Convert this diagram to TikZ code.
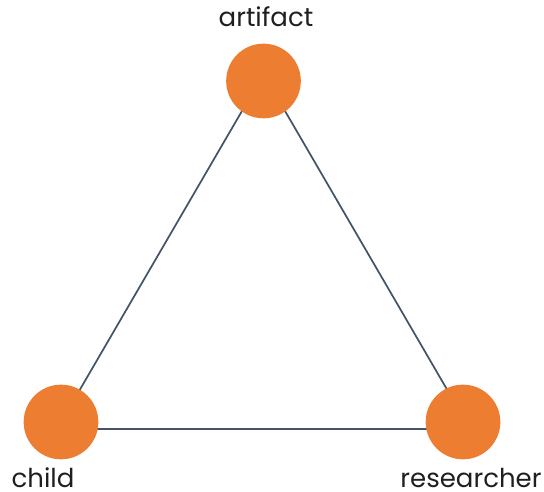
\documentclass[tikz,border=0pt]{standalone}
\usepackage{fontspec}
\setmainfont{Poppins}
\usepackage{tikz}
\usetikzlibrary{positioning}
\definecolor{dotorange}{HTML}{ED7D31}
\definecolor{edgeslate}{HTML}{44546A}

\begin{document}
\begin{tikzpicture}[x=0.75pt,y=0.75pt,
    actor/.style={circle,fill=dotorange,minimum size=56pt,inner sep=0pt},
    tie/.style={draw=edgeslate,line width=1.3pt},
    tag/.style={anchor=base,inner sep=0pt,font=\fontsize{19.5}{22}\selectfont,text=black!88}]
        \useasboundingbox (0,0) rectangle (544,492);

        % corners of the triangle
        \coordinate (ta) at (263.5,418);
        \coordinate (tc) at (57,63);
        \coordinate (tr) at (470,63);

        \draw[tie] (ta) -- (tc);
        \draw[tie] (tc) -- (tr);
        \draw[tie] (tr) -- (ta);

        \node[actor] (artifact) at (263.5,411) {};
        \node[actor] (child) at (61,70) {};
        \node[actor] (researcher) at (463,70) {};

        \node[tag] (artifactlabel) at (266,465) {artifact};
        \node[tag] (childlabel) at (43,4) {child};
        \node[tag] (researcherlabel) at (471,4) {researcher};
\end{tikzpicture}
\end{document}
